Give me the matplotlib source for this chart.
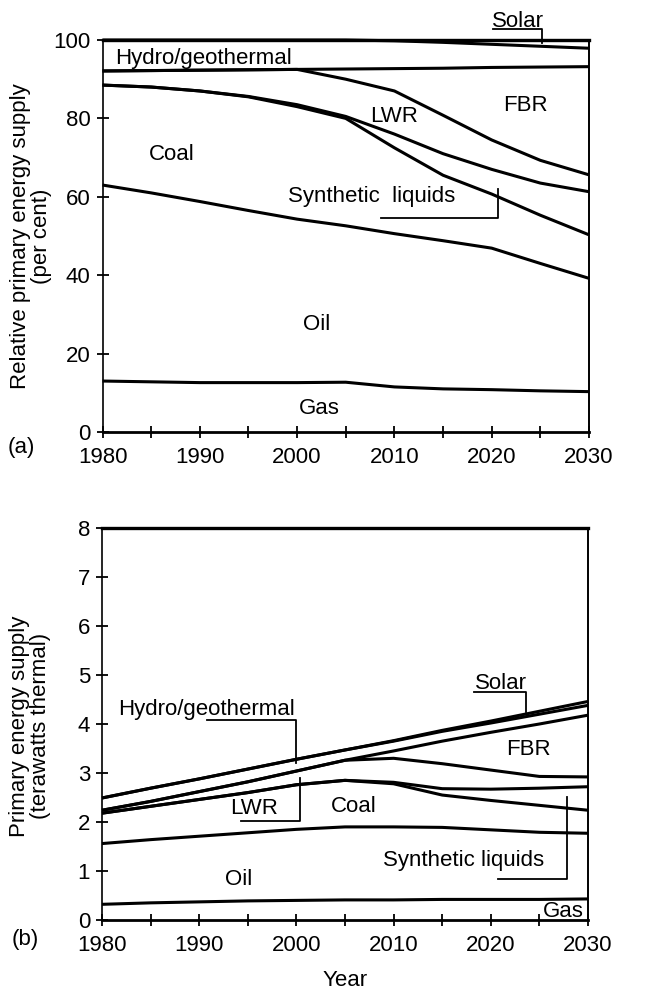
import matplotlib
matplotlib.use("Agg")
import matplotlib.pyplot as plt
import numpy as np

plt.rcParams['font.family'] = ['Liberation Sans', 'DejaVu Sans']
plt.rcParams['font.size'] = 16

years = [1980, 1985, 1990, 1995, 2000, 2005, 2010, 2015, 2020, 2025, 2030]
sources = ["Gas", "Oil", "Coal", "Synthetic liquids", "LWR", "FBR",
           "Hydro/geothermal", "Solar"]

# (a) relative supply, per cent, stacked from the bottom
rel_gas = [13.0, 12.8, 12.6, 12.6, 12.6, 12.7, 11.5, 11.0, 10.8, 10.5, 10.3]
rel_oil = [50.0, 48.2, 46.2, 43.9, 41.7, 39.9, 39.1, 37.8, 36.1, 32.5, 28.9]
rel_coal = [25.5, 27.0, 28.2, 29.0, 28.7, 27.4, 21.9, 16.7, 13.8, 12.3, 11.1]
rel_synth = [0, 0, 0, 0.1, 0.5, 0.5, 3.5, 5.5, 6.3, 8.2, 11.0]
rel_lwr = [3.6, 4.2, 5.3, 6.8, 9.0, 9.5, 11.0, 9.8, 7.5, 5.8, 4.3]
rel_fbr = [0, 0, 0, 0, 0, 2.6, 5.7, 12.0, 18.5, 23.8, 27.6]
rel_hydro = [7.9, 7.8, 7.7, 7.6, 7.5, 7.4, 7.1, 6.6, 5.9, 5.3, 4.7]
rel_solar = [0, 0, 0, 0, 0, 0, 0.2, 0.6, 1.1, 1.6, 2.1]

# (b) absolute supply, terawatts thermal
tw_gas = [0.32, 0.35, 0.37, 0.39, 0.40, 0.41, 0.41, 0.42, 0.42, 0.42, 0.43]
tw_oil = [1.24, 1.29, 1.34, 1.39, 1.45, 1.49, 1.49, 1.47, 1.42, 1.37, 1.34]
tw_coal = [0.62, 0.68, 0.75, 0.82, 0.91, 0.95, 0.88, 0.66, 0.60, 0.55, 0.47]
tw_synth = [0, 0, 0, 0, 0, 0, 0.03, 0.13, 0.23, 0.35, 0.48]
tw_lwr = [0.06, 0.10, 0.16, 0.22, 0.28, 0.41, 0.49, 0.51, 0.39, 0.24, 0.20]
tw_fbr = [0, 0, 0, 0, 0, 0, 0.15, 0.46, 0.77, 1.07, 1.26]
tw_hydro = [0.25, 0.27, 0.26, 0.26, 0.24, 0.21, 0.20, 0.20, 0.19, 0.20, 0.20]
tw_solar = [0, 0, 0, 0, 0, 0, 0.01, 0.02, 0.04, 0.06, 0.08]

rel = [rel_gas, rel_oil, rel_coal, rel_synth, rel_lwr, rel_fbr, rel_hydro, rel_solar]
tw = [tw_gas, tw_oil, tw_coal, tw_synth, tw_lwr, tw_fbr, tw_hydro, tw_solar]

W, H = 654, 993
fig = plt.figure(figsize=(W / 100, H / 100), dpi=100)

def px_axes(x0, y0, x1, y1):
    return fig.add_axes([x0 / W, 1 - y1 / H, (x1 - x0) / W, (y1 - y0) / H])

ax1 = px_axes(102.5, 40, 589, 432)
ax2 = px_axes(102, 528, 588, 920)


def draw_stack(ax, series, ymax):
    tops = np.cumsum(np.array(series, dtype=float), axis=0)
    for row in tops:
        ax.plot(years, row, color="black", lw=2.2, solid_capstyle="butt",
                clip_on=False)
    ax.set_xlim(1980, 2030)
    ax.set_ylim(0, ymax)
    ax.set_xticks(range(1980, 2031, 10))
    ax.set_xticks(range(1985, 2030, 10), minor=True)
    for side, lw in [("left", 1.2), ("right", 1.4), ("bottom", 2.0), ("top", 2.4)]:
        ax.spines[side].set_linewidth(lw)
    ax.tick_params(which="both", direction="inout", length=9, width=1.3)
    ax.tick_params(axis="x", which="both", pad=6)
    ax.tick_params(axis="y", pad=4)
    return tops


def leader(ax, xs, ys):
    ax.plot(xs, ys, color="black", lw=1.3, clip_on=False)


# ---- panel (a)
draw_stack(ax1, rel, 100)
ax1.set_yticks(range(0, 101, 20))
fig.text(31 / W, 1 - 236 / H, "Relative primary energy supply\n(per cent)",
         rotation=90, ha="center", va="center", linespacing=1.05)

ax1.text(2022.7, 104.7, "Solar", ha="center", va="center")
leader(ax1, [2020.1, 2025.2, 2025.2], [102.8, 102.8, 99.2])
ax1.text(1981.3, 95.2, "Hydro/geothermal", ha="left", va="center")
ax1.text(2010.0, 80.4, "LWR", ha="center", va="center")
ax1.text(2023.5, 83.4, "FBR", ha="center", va="center")
ax1.text(1987.1, 70.7, "Coal", ha="center", va="center")
ax1.text(2007.7, 60.0, "Synthetic  liquids", ha="center", va="center")
leader(ax1, [2008.6, 2020.6, 2020.6], [54.5, 54.5, 62.0])
ax1.text(2002.0, 27.3, "Oil", ha="center", va="center")
ax1.text(2002.3, 6.0, "Gas", ha="center", va="center")
fig.text(8 / W, 1 - 447 / H, "(a)", ha="left", va="center")

# ---- panel (b)
draw_stack(ax2, tw, 8)
ax2.set_yticks(range(0, 9))
fig.text(30 / W, 1 - 726 / H, "Primary energy supply\n(terawatts thermal)",
         rotation=90, ha="center", va="center", linespacing=1.05)
fig.text(345 / W, 1 - 980 / H, "Year", ha="center", va="center")

ax2.text(2021.0, 4.83, "Solar", ha="center", va="center")
leader(ax2, [2018.3, 2023.6, 2023.6], [4.66, 4.66, 4.25])
ax2.text(1981.7, 4.29, "Hydro/geothermal", ha="left", va="center")
leader(ax2, [1990.8, 2000.0, 2000.0], [4.08, 4.08, 3.2])
ax2.text(2023.9, 3.47, "FBR", ha="center", va="center")
ax2.text(1995.6, 2.28, "LWR", ha="center", va="center")
leader(ax2, [1994.3, 2000.4, 2000.4], [2.03, 2.03, 2.89])
ax2.text(2005.9, 2.31, "Coal", ha="center", va="center")
ax2.text(2017.2, 1.22, "Synthetic liquids", ha="center", va="center")
leader(ax2, [2020.7, 2027.8, 2027.8], [0.83, 0.83, 2.52])
ax2.text(1994.1, 0.82, "Oil", ha="center", va="center")
ax2.text(2029.6, 0.17, "Gas", ha="right", va="center")
fig.text(12 / W, 1 - 940 / H, "(b)", ha="left", va="center")

fig.savefig("out.png", dpi=100)
